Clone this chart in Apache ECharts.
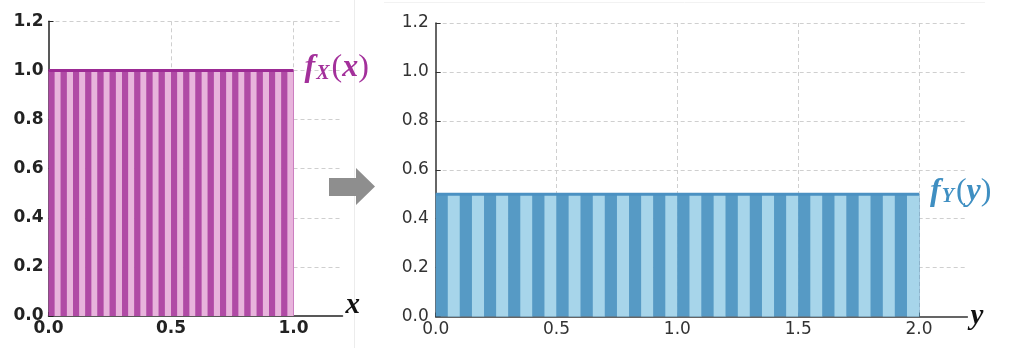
<!DOCTYPE html>
<html>
<head>
<meta charset="utf-8">
<script src="https://cdn.jsdelivr.net/npm/echarts@6/dist/echarts.min.js"></script>
<style>html,body{margin:0;padding:0;background:#fff;}#c{width:1024px;height:356px;}</style>
</head>
<body>
<div id="c"></div>
<script>
// ---- data ----
const fxBinStarts = [0.00,0.05,0.10,0.15,0.20,0.25,0.30,0.35,0.40,0.45,0.50,0.55,0.60,0.65,0.70,0.75,0.80,0.85,0.90,0.95];
const fxValues    = [1.0,1.0,1.0,1.0,1.0,1.0,1.0,1.0,1.0,1.0,1.0,1.0,1.0,1.0,1.0,1.0,1.0,1.0,1.0,1.0];
const fxBinWidth  = 0.05;
const fyBinStarts = [0.0,0.1,0.2,0.3,0.4,0.5,0.6,0.7,0.8,0.9,1.0,1.1,1.2,1.3,1.4,1.5,1.6,1.7,1.8,1.9];
const fyValues    = [0.5,0.5,0.5,0.5,0.5,0.5,0.5,0.5,0.5,0.5,0.5,0.5,0.5,0.5,0.5,0.5,0.5,0.5,0.5,0.5];
const fyBinWidth  = 0.1;
const fxTop = [[0, 1.0], [1.0, 1.0]];
const fyTop = [[0, 0.5], [2.0, 0.5]];
const xRangeLeft  = [0, 1.2];
const xRangeRight = [0, 2.2];
const yRange = [0, 1.2];
const xTickStep = 0.5, yTickStep = 0.2;

const chart = echarts.init(document.getElementById('c'), null, {renderer: 'canvas'});

function stripes(width, dark, light) {
  return function (params, api) {
    const x0 = api.value(0), v = api.value(1);
    const p0 = api.coord([x0, 0]);
    const pm = api.coord([x0 + width / 2, v]);
    const p1 = api.coord([x0 + width, v]);
    return {
      type: 'group',
      children: [
        {type: 'rect', shape: {x: p0[0], y: p1[1], width: p1[0] - p0[0] + 0.5, height: p0[1] - p1[1]}, style: {fill: dark}},
        {type: 'rect', shape: {x: pm[0], y: p1[1], width: p1[0] - pm[0], height: p0[1] - p1[1]}, style: {fill: light}}
      ]
    };
  };
}

function xAxis(idx, range, color, weight, nameText, nameVA, namePad, nameLH) {
  return {
    type: 'value', gridIndex: idx, min: range[0], max: range[1], interval: xTickStep,
    name: nameText, nameLocation: 'end', nameGap: 3,
    nameTextStyle: {fontFamily: 'Liberation Serif', fontStyle: 'italic', fontWeight: 'bold', fontSize: 29, color: '#111',
                    verticalAlign: nameVA, padding: namePad, lineHeight: nameLH},
    axisLine: {show: true, lineStyle: {color: color, width: 1.5}},
    axisTick: {show: true, inside: true, length: 4, lineStyle: {color: color}},
    axisLabel: {showMaxLabel: false, margin: 4, fontFamily: 'DejaVu Sans', fontSize: 17, fontWeight: weight, color: color,
                formatter: v => v.toFixed(1)},
    splitLine: {show: true, showMinLine: false, showMaxLine: false, lineStyle: {color: '#cfcfcf', type: [4, 3], width: 1}}
  };
}
function yAxis(idx, color, weight, margin) {
  return {
    type: 'value', gridIndex: idx, min: yRange[0], max: yRange[1], interval: yTickStep,
    axisLine: {show: true, lineStyle: {color: color, width: 1.5}},
    axisTick: {show: true, inside: true, length: 5, lineStyle: {color: color}},
    axisLabel: {margin: margin, fontFamily: 'DejaVu Sans', fontSize: 17, fontWeight: weight, color: color,
                formatter: v => v.toFixed(1)},
    splitLine: {show: true, showMinLine: false, lineStyle: {color: '#cfcfcf', type: [4, 3], width: 1}}
  };
}

function topLabel(color, sub, arg) {
  const serif = {fontFamily: 'Liberation Serif', fontStyle: 'italic', fontWeight: 'bold', color: color};
  return {
    show: true, distance: 11, offset: [0, -3],
    formatter: '{f|f}{s|' + sub + '}{p|(}{a|' + arg + '}{p|)}',
    rich: {
      f: Object.assign({fontSize: 32, verticalAlign: 'middle'}, serif),
      s: Object.assign({fontSize: 20, verticalAlign: 'bottom', padding: [0, 2, 0, 1]}, serif),
      p: {fontFamily: 'Liberation Serif', fontSize: 32, color: color, verticalAlign: 'middle'},
      a: Object.assign({fontSize: 32, verticalAlign: 'middle'}, serif)
    }
  };
}

const option = {
  animation: false,
  backgroundColor: '#fff',
  grid: [
    {left: 48.5, top: 21.3, width: 294, height: 294.7},
    {left: 435.7, top: 23, width: 531.7, height: 293.6}
  ],
  xAxis: [
    xAxis(0, xRangeLeft, '#222', 'bold', 'x', 'bottom', [0, 0, 2, 0], 16),
    xAxis(1, xRangeRight, '#333', 'normal', 'y', 'middle', [6, 0, 0, 0], 29)
  ],
  yAxis: [
    yAxis(0, '#222', 'bold', 5),
    yAxis(1, '#333', 'normal', 7)
  ],
  series: [
    {type: 'custom', xAxisIndex: 0, yAxisIndex: 0, encode: {x: 0, y: 1},
     data: fxBinStarts.map((s, i) => [s, fxValues[i]]),
     renderItem: stripes(fxBinWidth, '#b04aa5', '#e8b4dc')},
    {type: 'custom', xAxisIndex: 1, yAxisIndex: 1, encode: {x: 0, y: 1},
     data: fyBinStarts.map((s, i) => [s, fyValues[i]]),
     renderItem: stripes(fyBinWidth, '#569ac5', '#a7d5ea')},
    {type: 'line', xAxisIndex: 0, yAxisIndex: 0, data: fxTop, symbol: 'none',
     lineStyle: {color: '#9c2a94', width: 3}, z: 5,
     endLabel: topLabel('#a3309b', 'X', 'x')},
    {type: 'line', xAxisIndex: 1, yAxisIndex: 1, data: fyTop, symbol: 'none',
     lineStyle: {color: '#4b91c2', width: 3}, z: 5,
     endLabel: topLabel('#3f8fc2', 'Y', 'y')}
  ],
  graphic: [
    {type: 'line', shape: {x1: 354.5, y1: 0, x2: 354.5, y2: 348}, style: {stroke: '#ececec', lineWidth: 1}, silent: true},
    {type: 'line', shape: {x1: 384, y1: 2.5, x2: 985, y2: 2.5}, style: {stroke: '#f2f2f2', lineWidth: 1}, silent: true},
    {type: 'polygon', shape: {points: [[329, 178], [356, 178], [356, 168], [375, 186.5], [356, 205], [356, 196], [329, 196]]},
     style: {fill: '#8e8e8e'}, silent: true}
  ]
};
chart.setOption(option);
</script>
</body>
</html>
